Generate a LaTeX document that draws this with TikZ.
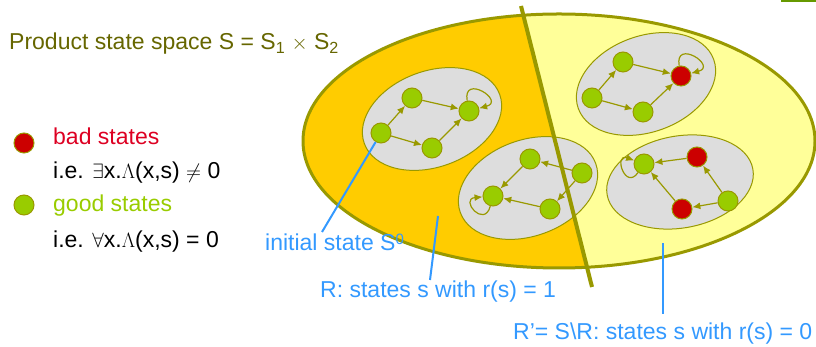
\documentclass[tikz,border=0pt]{standalone}
\usepackage{fontspec}
\setmainfont{Liberation Sans}
\usetikzlibrary{arrows.meta}
\definecolor{cOlive}{HTML}{999900}
\definecolor{cTitle}{HTML}{666600}
\definecolor{cGreen}{HTML}{99CC00}
\definecolor{cRed}{HTML}{CC0000}
\definecolor{cBadTxt}{HTML}{DD0022}
\definecolor{cBlue}{HTML}{3399FF}
\definecolor{cOrange}{HTML}{FFCC00}
\definecolor{cYellow}{HTML}{FFFF99}
\definecolor{cGray}{HTML}{DDDDDD}
\definecolor{cBar}{HTML}{669900}
\newcommand{\mysym}[1]{{\fontsize{20}{24}\selectfont$#1$}}
\begin{document}
\begin{tikzpicture}[x=1pt,y=1pt,
  st/.style={circle,draw=cOlive,line width=1pt,minimum size=20pt,inner sep=0pt},
  good/.style={st,fill=cGreen},
  bad/.style={st,fill=cRed},
  arr/.style={draw=cOlive,line width=1.2pt,-{Latex[length=8pt,width=7pt]}},
  sub/.style={fill=cGray,draw=cOlive,line width=1pt},
  lbl/.style={font=\fontsize{23}{27}\selectfont,inner sep=0pt,anchor=base west},
  lead/.style={draw=cBlue,line width=2pt}]
\useasboundingbox (0,0) rectangle (816,347);

% top-right bar
\fill[cBar] (781,345) rectangle (816,347);

% big ellipse split in two regions
\begin{scope}
  \clip (559,206) ellipse [x radius=256,y radius=127];
  \fill[cOrange] (0,397) -- (506.8,397) -- (620.6,-53) -- (0,-53) -- cycle;
  \fill[cYellow] (506.8,397) -- (900,397) -- (900,-53) -- (620.6,-53) -- cycle;
\end{scope}
\draw[cOlive,line width=3pt] (559,206) ellipse [x radius=256,y radius=127];

% sub ellipses
\draw[sub] (432,228) ellipse [x radius=72,y radius=48,rotate=20];
\draw[sub] (528,159) ellipse [x radius=72,y radius=48,rotate=20];
\draw[sub] (646,263) ellipse [x radius=72,y radius=48,rotate=20];
\draw[sub] (680,165) ellipse [x radius=74,y radius=46,rotate=10];

% dividing line
\coordinate (dtop) at (521,341);
\coordinate (dbot) at (592,60);
\draw[cOlive,line width=4pt] (dtop) -- (dbot);

% states
\node[good] (A) at (381,214) {};
\node[good] (B) at (412,249) {};
\node[good] (C) at (469,236) {};
\node[good] (D) at (432,199) {};

\node[good] (E) at (530,188) {};
\node[good] (F) at (582,174) {};
\node[good] (G) at (493,151) {};
\node[good] (H) at (550,138) {};

\node[good] (I) at (592,249) {};
\node[good] (J) at (623,285) {};
\node[bad]  (K) at (681,271) {};
\node[good] (L) at (643,235) {};

\node[good] (M) at (644,183) {};
\node[bad]  (N) at (697,190) {};
\node[good] (O) at (728,146) {};
\node[bad]  (P) at (682,138) {};

% transitions
\draw[arr] (A) -- (B);
\draw[arr] (B) -- (C);
\draw[arr] (A) -- (D);
\draw[arr] (D) -- (C);
\draw[arr] (C) to[out=100,in=15,looseness=5] (C);

\draw[arr] (F) -- (E);
\draw[arr] (E) -- (G);
\draw[arr] (F) -- (H);
\draw[arr] (H) -- (G);
\draw[arr] (G) to[out=-105,in=185,looseness=5] (G);

\draw[arr] (I) -- (J);
\draw[arr] (J) -- (K);
\draw[arr] (I) -- (L);
\draw[arr] (L) -- (K);
\draw[arr] (K) to[out=100,in=15,looseness=5] (K);

\draw[arr] (N) -- (M);
\draw[arr] (O) -- (N);
\draw[arr] (O) -- (P);
\draw[arr] (P) -- (M);
\draw[arr] (M) to[out=-125,in=160,looseness=4.5] (M);

% title and legend
\node[lbl,text=cTitle] (title) at (9,297) {Product state space S = S\textsubscript{1} \mysym{\times} S\textsubscript{2}};
\node[bad]  (lbad)  at (24,204) {};
\node[good] (lgood) at (24,142) {};
\node[lbl,text=cBadTxt] (tbad) at (53,202) {bad states};
\node[lbl] (tbadc) at (53,168) {i.e. \mysym{\exists}x.\mysym{\Lambda}(x,s) \mysym{\neq} 0};
\node[lbl,text=cGreen] (tgood) at (53,135) {good states};
\node[lbl] (tgoodc) at (53,99) {i.e. \mysym{\forall}x.\mysym{\Lambda}(x,s) = 0};

% blue annotations
\node[lbl,text=cBlue] (tinit) at (265,96) {initial state S\raisebox{6pt}{\fontsize{15}{15}\selectfont 0}};
\node[lbl,text=cBlue] (tR) at (320,49) {R: states s with r(s) = 1};
\node[lbl,text=cBlue] (tRp) at (513,7) {R’= S\textbackslash R: states s with r(s) = 0};

\coordinate (li) at (322,115);
\draw[lead] (li) -- (A);
\coordinate (r1) at (430,67);
\coordinate (r2) at (438,131);
\draw[lead] (r1) -- (r2);
\coordinate (q1) at (663,33);
\coordinate (q2) at (663,104);
\draw[lead] (q1) -- (q2);
\end{tikzpicture}
\end{document}
